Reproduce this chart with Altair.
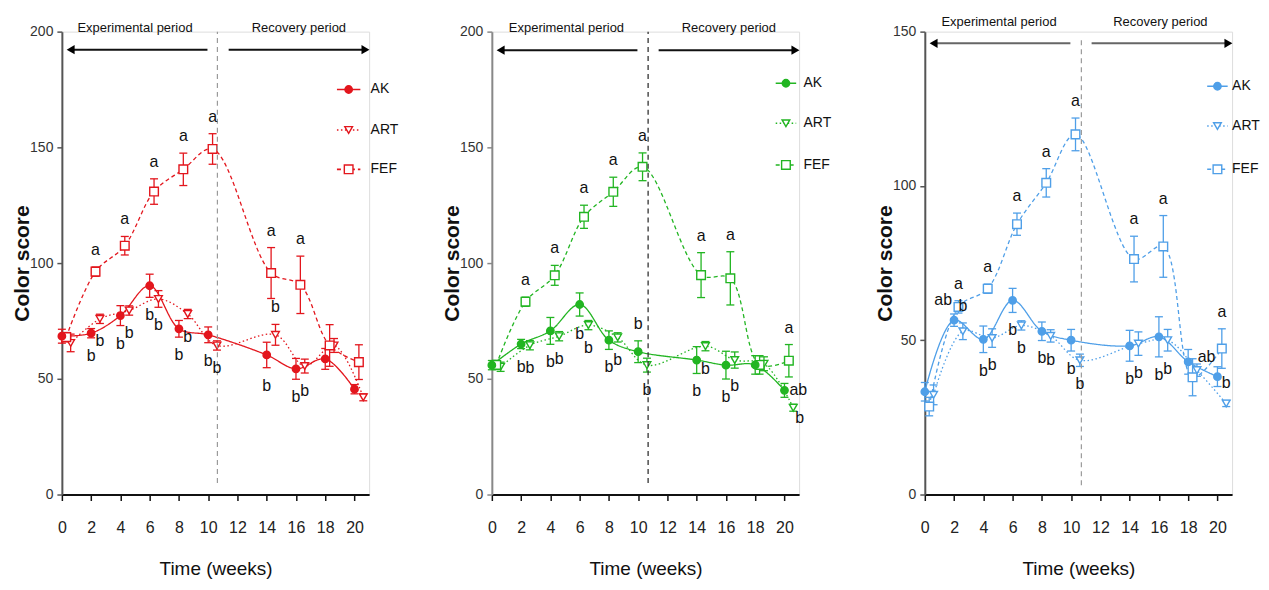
import altair as alt
import pandas as pd

# ---------------- data ----------------
WEEKS = [0, 2, 4, 6, 8, 10, 14, 16, 18, 20]
SERIES = ["AK", "ART", "FEF"]

# Panel 1 (red)
red_ak = [68.4, 69.7, 77.3, 90.2, 71.6, 69.0, 60.3, 54.3, 58.6, 45.5]
red_ak_err = [3.0, 2.0, 4.3, 5.0, 3.6, 3.4, 5.5, 4.5, 4.5, 2.0]
red_art = [65.5, 75.9, 79.5, 84.5, 78.0, 64.4, 69.0, 55.5, 64.4, 42.0]
red_art_err = [3.8, 2.0, 2.0, 3.6, 2.0, 2.0, 4.5, 3.0, 3.0, 1.5]
red_fef = [68.0, 96.3, 107.5, 130.9, 140.5, 149.3, 95.7, 90.6, 64.4, 57.2]
red_fef_err = [2.0, 2.0, 4.0, 5.5, 7.0, 6.6, 11.0, 12.4, 9.0, 7.5]
red_letters = [
    ("FEF", 2, "a", "above"), ("FEF", 4, "a", "above"), ("FEF", 6, "a", "above"),
    ("FEF", 8, "a", "above"), ("FEF", 10, "a", "above"), ("FEF", 14, "a", "above"),
    ("FEF", 16, "a", "above"),
    ("AK", 2, "b", "below"), ("AK", 4, "b", "below"), ("AK", 6, "b", "below"),
    ("AK", 8, "b", "below"), ("AK", 10, "b", "below"), ("AK", 14, "b", "below"),
    ("AK", 16, "b", "below"),
    ("ART", 2, "b", "below"), ("ART", 4, "b", "below"), ("ART", 6, "b", "below"),
    ("ART", 8, "b", "below"), ("ART", 10, "b", "below"), ("ART", 14, "b", "above"),
    ("ART", 16, "b", "below"),
]

# Panel 2 (green)
green_ak = [55.9, 65.0, 70.7, 82.1, 66.7, 61.7, 58.1, 55.9, 56.0, 45.0]
green_ak_err = [2.0, 2.0, 5.8, 5.0, 4.0, 4.7, 5.8, 6.0, 4.0, 3.0]
green_art = [55.2, 64.5, 68.4, 73.2, 67.9, 55.9, 64.1, 58.1, 56.5, 37.5]
green_art_err = [2.0, 2.0, 2.0, 2.0, 2.0, 3.0, 2.0, 3.5, 3.0, 1.5]
green_fef = [56.0, 83.3, 94.7, 120.0, 130.8, 141.6, 94.8, 93.4, 56.0, 57.8]
green_fef_err = [2.0, 2.0, 4.3, 5.0, 6.3, 6.0, 9.7, 11.5, 4.0, 7.0]
green_letters = [
    ("FEF", 2, "a", "above"), ("FEF", 4, "a", "above"), ("FEF", 6, "a", "above"),
    ("FEF", 8, "a", "above"), ("FEF", 10, "a", "above"), ("FEF", 14, "a", "above"),
    ("FEF", 16, "a", "above"), ("FEF", 20, "a", "above"),
    ("AK", 2, "b", "below"), ("AK", 4, "b", "below"), ("AK", 6, "b", "below"),
    ("AK", 8, "b", "below"), ("AK", 10, "b", "above"), ("AK", 14, "b", "below"),
    ("AK", 16, "b", "below"), ("AK", 20, "ab", "right"),
    ("ART", 2, "b", "below"), ("ART", 4, "b", "below"), ("ART", 6, "b", "below"),
    ("ART", 8, "b", "below"), ("ART", 10, "b", "below"), ("ART", 14, "b", "below"),
    ("ART", 16, "b", "below"), ("ART", 20, "b", "downright"),
]

# Panel 3 (blue)
blue_ak = [33.3, 56.5, 50.3, 62.9, 52.9, 50.0, 48.2, 51.1, 43.0, 38.2]
blue_ak_err = [3.0, 2.0, 4.3, 3.9, 3.0, 3.5, 5.0, 6.5, 4.0, 3.2]
blue_art = [32.3, 52.9, 50.7, 54.8, 51.4, 43.5, 48.9, 50.0, 40.3, 29.5]
blue_art_err = [3.2, 2.7, 3.0, 1.5, 2.0, 2.0, 3.8, 3.5, 2.0, 1.0]
blue_fef = [28.5, 60.8, 66.7, 87.6, 101.0, 116.7, 76.3, 80.4, 38.0, 47.3]
blue_fef_err = [3.0, 2.0, 1.5, 3.6, 4.6, 5.3, 7.4, 10.0, 6.0, 6.4]
blue_letters = [
    ("FEF", 2, "a", "above"), ("FEF", 4, "a", "above"), ("FEF", 6, "a", "above"),
    ("FEF", 8, "a", "above"), ("FEF", 10, "a", "above"), ("FEF", 14, "a", "above"),
    ("FEF", 16, "a", "above"), ("FEF", 20, "a", "above"),
    ("AK", 2, "ab", "upleft"), ("AK", 4, "b", "below"), ("AK", 6, "b", "below"),
    ("AK", 8, "b", "below"), ("AK", 10, "b", "below"), ("AK", 14, "b", "below"),
    ("AK", 16, "b", "below"), ("AK", 20, "ab", "upleft"),
    ("ART", 2, "b", "above"), ("ART", 4, "b", "below"), ("ART", 6, "b", "below"),
    ("ART", 8, "b", "below"), ("ART", 10, "b", "below"), ("ART", 14, "b", "below"),
    ("ART", 16, "b", "below"), ("ART", 20, "b", "above"),
]

PERIOD_TEXT = ["Experimental period", "Recovery period"]

# ---------------- style / layout ----------------
FONT_N = "Liberation Sans Narrow, Arial Narrow, Liberation Sans, sans-serif"
FONT = "Liberation Sans, Arial, sans-serif"
OFFSET = {"AK": 0.0, "FEF": 0.3, "ART": 0.6}
DASH = {"AK": [1, 0], "ART": [1.5, 2.5], "FEF": [4, 3]}
W, H = 308, 464
X_DOMAIN = [0, 21]
X_TICKS = list(range(0, 21, 2))

SIDE_STYLE = {
    "above": dict(align="center", baseline="bottom", dx=0, dy=-9),
    "below": dict(align="center", baseline="top", dx=0, dy=10),
    "right": dict(align="left", baseline="middle", dx=5, dy=0),
    "downright": dict(align="left", baseline="middle", dx=2, dy=10),
    "upleft": dict(align="right", baseline="middle", dx=-2, dy=-20),
}


def xenc(field):
    return alt.X(
        f"{field}:Q",
        scale=alt.Scale(domain=X_DOMAIN, nice=False, zero=False),
        axis=alt.Axis(
            values=X_TICKS, title="Time (weeks)", grid=False,
            domainColor="#111", domainWidth=2, tickColor="#111", tickWidth=1.5, tickSize=6,
            labelFont=FONT_N, labelFontSize=16, labelColor="#222", labelPadding=19,
            labelFlush=False,
            titleFont=FONT_N, titleFontSize=19, titleFontWeight="normal", titleColor="#111",
            titlePadding=24,
        ),
    )


def yenc(field, P):
    return alt.Y(
        f"{field}:Q",
        scale=alt.Scale(domain=[0, P["ymax"]], nice=False, zero=True),
        axis=alt.Axis(
            values=P["yticks"], title="Color score", grid=False,
            domainColor=P["ycol"], domainWidth=2, tickColor=P["ycol"], tickWidth=1.5, tickSize=5,
            labelFont=FONT_N, labelFontSize=14, labelColor="#333", labelPadding=4,
            labelFlush=False,
            titleFont=FONT, titleFontSize=21, titleFontWeight="bold", titleColor="#111",
            titleX=-33, titleBaseline="alphabetic",
        ),
    )


def marker(data, xf, yf, s, P):
    color = P["color"]
    spec = {
        "AK": dict(shape="circle", size=55, fill=color),
        "ART": dict(shape="triangle-down", size=60, fill="white"),
        "FEF": dict(shape="square", size=75, fill="white"),
    }[s]
    return alt.Chart(data).mark_point(
        filled=True, opacity=1, fillOpacity=1, stroke=color, strokeWidth=1.4, **spec
    ).encode(x=xenc(xf), y=yenc(yf, P))


def build_panel(ak, ak_err, art, art_err, fef, fef_err, letters, P):
    color = P["color"]
    rows = []
    for s, vals, errs in (("AK", ak, ak_err), ("ART", art, art_err), ("FEF", fef, fef_err)):
        for w, v, e in zip(WEEKS, vals, errs):
            rows.append({"series": s, "week": w, "x": w + OFFSET[s],
                         "value": v, "lo": v - e, "hi": v + e})
    df = pd.DataFrame(rows)
    lookup = {(r["series"], r["week"]): r for r in rows}

    layers = []
    for s in ["ART", "FEF", "AK"]:
        sub = df[df.series == s]
        layers.append(
            alt.Chart(sub).mark_line(interpolate="catmull-rom", strokeWidth=1.3, color=color,
                                     strokeDash=DASH[s], opacity=1)
            .encode(x=xenc("x"), y=yenc("value", P))
        )
    layers.append(alt.Chart(df).mark_rule(color=color, strokeWidth=1.3)
                  .encode(x=xenc("x"), y=yenc("lo", P), y2="hi:Q"))
    for f in ["lo", "hi"]:
        layers.append(alt.Chart(df).mark_tick(color=color, thickness=1.3, size=8,
                                              orient="horizontal", opacity=1)
                      .encode(x=xenc("x"), y=yenc(f, P)))
    for s in ["ART", "FEF", "AK"]:
        layers.append(marker(df[df.series == s], "x", "value", s, P))

    vdf = pd.DataFrame({"x": [P["vx"]], "y": [P["vy0"]], "y2": [P["vy1"]]})
    layers.append(alt.Chart(vdf).mark_rule(color=P["vcol"], strokeWidth=1.2, strokeDash=[5, 4])
                  .encode(x=xenc("x"), y=yenc("y", P), y2="y2:Q"))

    adf = pd.DataFrame({"x": [0.6, 11.4], "x2": [9.95, 20.75], "y": [P["ay"], P["ay"]]})
    layers.append(alt.Chart(adf).mark_rule(color=P["acol"], strokeWidth=2)
                  .encode(x=xenc("x"), x2="x2:Q", y=yenc("y", P)))
    for hx, shp in ((0.6, "triangle-left"), (20.75, "triangle-right")):
        hdf = pd.DataFrame({"x": [hx], "y": [P["ay"]]})
        layers.append(alt.Chart(hdf).mark_point(shape=shp, filled=True, size=85, color="#000",
                                                opacity=1)
                      .encode(x=xenc("x"), y=yenc("y", P)))
    tdf = pd.DataFrame({"x": [P["tx1"], P["tx2"]], "y": [P["ty"], P["ty"]], "text": PERIOD_TEXT})
    layers.append(alt.Chart(tdf).mark_text(font=FONT_N, fontSize=13, color="#111",
                                           baseline="middle")
                  .encode(x=xenc("x"), y=yenc("y", P), text="text:N"))

    lab_rows = []
    for s, w, txt, side in letters:
        r = lookup[(s, w)]
        yv = r["hi"] if side == "above" else (r["lo"] if side == "below" else r["value"])
        lab_rows.append({"x": r["x"], "y": yv, "text": txt, "side": side})
    lab = pd.DataFrame(lab_rows)
    for side, st in SIDE_STYLE.items():
        sub = lab[lab.side == side]
        if len(sub):
            layers.append(alt.Chart(sub).mark_text(font=FONT_N, fontSize=16, color="#111", **st)
                          .encode(x=xenc("x"), y=yenc("y", P), text="text:N"))

    for s, ly in zip(SERIES, P["ly"]):
        ldf = pd.DataFrame({"x1": [P["lx1"]], "x2": [P["lx2"]], "xm": [P["lxm"]],
                            "xt": [P["lxt"]], "y": [ly], "label": [s]})
        layers.append(alt.Chart(ldf).mark_rule(color=color, strokeWidth=1.6, strokeDash=DASH[s])
                      .encode(x=xenc("x1"), x2="x2:Q", y=yenc("y", P)))
        layers.append(marker(ldf, "xm", "y", s, P))
        layers.append(alt.Chart(ldf).mark_text(font=FONT_N, fontSize=14, color="#111",
                                               align="left", baseline="middle")
                      .encode(x=xenc("xt"), y=yenc("y", P), text="label:N"))

    return alt.layer(*layers).properties(width=W, height=H)


P1 = dict(color="#e3161d", ymax=200, yticks=[0, 50, 100, 150, 200], ycol="#555",
          vx=10.63, vy0=5, vy1=200, vcol="#9a9a9a", ay=192.2, acol="#111",
          tx1=5.0, tx2=16.2, ty=201.7,
          lx1=18.8, lx2=20.4, lxm=19.6, lxt=21.1, ly=[175.0, 157.5, 140.5])
P2 = dict(color="#22b522", ymax=200, yticks=[0, 50, 100, 150, 200], ycol="#888",
          vx=10.68, vy0=5, vy1=200, vcol="#222", ay=192.0, acol="#111",
          tx1=5.1, tx2=16.2, ty=201.5,
          lx1=19.4, lx2=20.8, lxm=20.1, lxt=21.3, ly=[177.7, 160.4, 142.4])
P3 = dict(color="#4f9fe8", ymax=150, yticks=[0, 50, 100, 150], ycol="#555",
          vx=10.7, vy0=3, vy1=148.4, vcol="#9a9a9a", ay=146.2, acol="#666",
          tx1=5.07, tx2=16.1, ty=153.2,
          lx1=19.3, lx2=20.7, lxm=20.0, lxt=21.0, ly=[132.3, 119.4, 105.4])

p1 = build_panel(red_ak, red_ak_err, red_art, red_art_err, red_fef, red_fef_err, red_letters, P1)
p2 = build_panel(green_ak, green_ak_err, green_art, green_art_err, green_fef, green_fef_err,
                 green_letters, P2)
p3 = build_panel(blue_ak, blue_ak_err, blue_art, blue_art_err, blue_fef, blue_fef_err,
                 blue_letters, P3)

chart = (
    alt.hconcat(p1, p2, p3, spacing=42)
    .properties(padding={"left": 3, "top": 6, "right": 0, "bottom": 0})
    .configure_view(strokeWidth=0, strokeOpacity=0)
    .configure(background="white")
)

chart.save("out.html", embed_options={"renderer": "svg", "actions": False})
